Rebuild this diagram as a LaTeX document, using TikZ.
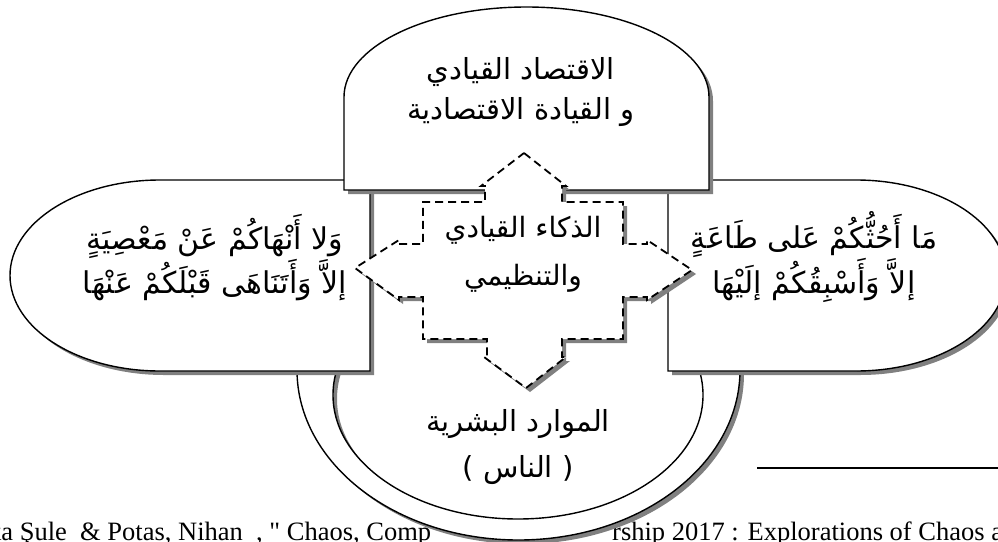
\documentclass[tikz,border=0pt]{standalone}
\usepackage{fontspec}
\TeXXeTstate=1
\newfontfamily\arabicfont[Script=Arabic]{DejaVu Sans}
\newfontfamily\capfont[Ligatures=TeXOff]{Liberation Serif}
\definecolor{shadowgray}{RGB}{128,128,128}
\tikzset{
  panel/.style={fill=white, draw=black, line width=1.4pt},
  panelshadow/.style={fill=shadowgray, shift={(4,4)}},
  crossline/.style={fill=white, draw=black, line width=1.8pt, dash pattern=on 8pt off 5pt},
  arlabel/.style={font=\arabicfont\fontsize{29}{40}\selectfont, align=center, inner sep=0pt},
  caption/.style={font=\capfont\fontsize{26.5}{30}\selectfont, inner sep=0pt},
}
% outlines of the four panels and the central cross (pixel-like units, y downwards)
\newcommand{\pathLeft}{(370,180) -- (160,180) arc[start angle=270, end angle=90, x radius=150, y radius=95.5] -- (370,371) -- cycle}
\newcommand{\pathRight}{(668,180) -- (856,180) arc[start angle=-90, end angle=90, x radius=150, y radius=95.5] -- (668,371) -- cycle}
\newcommand{\pathTop}{(344,190) -- (344,97) arc[start angle=180, end angle=360, x radius=182.5, y radius=90] -- (709,190) -- cycle}
\newcommand{\pathRing}{(518.5,370) ellipse[x radius=221.5, y radius=170] (518,395) ellipse[x radius=185, y radius=124]}
\newcommand{\pathCross}{(524,153) -- (566,186) -- (562,186) -- (562,202) -- (623,202) -- (623,244)
  -- (647,244) -- (647,240) -- (692,270) -- (647,300) -- (647,297) -- (623,297) -- (623,339)
  -- (562,339) -- (562,357) -- (566,357) -- (526,388) -- (484,357) -- (487,357) -- (487,339)
  -- (423,339) -- (423,297) -- (399,297) -- (399,300) -- (355,268) -- (399,240) -- (399,244)
  -- (423,244) -- (423,202) -- (485,202) -- (485,186) -- (481,186) -- cycle}
\begin{document}
\begin{tikzpicture}[x=1pt, y=-1pt]
  \useasboundingbox (0,0) rectangle (998,541);

  % reference line running along the bottom of the page
  \node[caption, anchor=base west] (capLeft) at (-12,540) {ka Şule~~\& Potas, Nihan~~, " Chaos, Comp};
  \node[caption, anchor=base west] (capRight) at (612,540) {rship 2017 : Explorations of Chaos a};
  \coordinate (ruleA) at (757,468);
  \coordinate (ruleB) at (998,468);
  \draw[line width=1.3pt] (ruleA) -- (ruleB);

  % lower ring, its upper half hidden behind the side panels
  \begin{scope}
    \clip (0,350) rectangle (998,560);
    \fill[panelshadow, even odd rule] \pathRing;
    \filldraw[panel, even odd rule] \pathRing;
  \end{scope}

  % side panels
  \fill[panelshadow] \pathLeft;
  \filldraw[panel] \pathLeft;
  \fill[panelshadow] \pathRight;
  \filldraw[panel] \pathRight;

  % upper panel
  \fill[panelshadow] \pathTop;
  \filldraw[panel] \pathTop;

  % central four-way cross
  \fill[panelshadow] \pathCross;
  \filldraw[crossline] \pathCross;

  % labels
  \node[arlabel] (topText) at (521,92) {\beginR الاقتصاد القيادي\endR\\\beginR و القيادة الاقتصادية\endR};
  \node[arlabel, font=\arabicfont\fontsize{30}{39}\selectfont] (leftText) at (215,258) {\beginR وَلا أَنْهَاكُمْ عَنْ مَعْصِيَةٍ\endR\\\beginR إلاَّ وَأَتَنَاهَى قَبْلَكُمْ عَنْهَا\endR};
  \node[arlabel, font=\arabicfont\fontsize{30}{39}\selectfont] (rightText) at (814,257) {\beginR مَا أَحُثُّكُمْ عَلى طَاعَةٍ\endR\\\beginR إلاَّ وَأَسْبِقُكُمْ إلَيْهَا\endR};
  \node[arlabel, font=\arabicfont\fontsize{28}{48}\selectfont] (centerText) at (523,254) {\beginR الذكاء القيادي\endR\\\beginR والتنظيمي\endR};
  \node[arlabel, font=\arabicfont\fontsize{29}{46}\selectfont] (bottomText) at (518,447) {\beginR الموارد البشرية\endR\\\beginR ( الناس )\endR};
\end{tikzpicture}
\end{document}
